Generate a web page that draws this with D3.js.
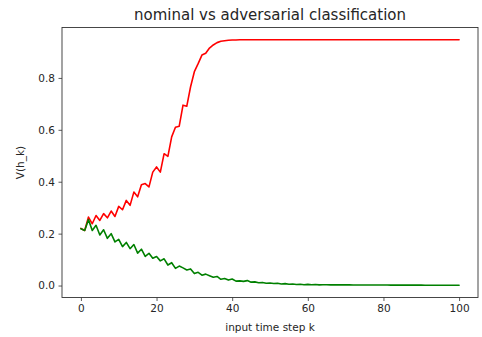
<!DOCTYPE html>
<html>
<head>
<meta charset="utf-8">
<script src="https://cdn.jsdelivr.net/npm/d3@7"></script>
<style>
  html, body { margin: 0; padding: 0; background: #fff; }
  svg { display: block; font-family: "DejaVu Sans", sans-serif; }
</style>
</head>
<body>
<svg id="chart" width="482" height="337"></svg>
<script>
// time steps k = 0..100
const steps = d3.range(0, 101);

// V(h_k) for the adversarial input (rises to saturation)
const adversarial = [
  0.220, 0.212, 0.264, 0.238, 0.270, 0.251, 0.277, 0.261, 0.287, 0.266,
  0.305, 0.292, 0.328, 0.309, 0.360, 0.342, 0.388, 0.393, 0.380, 0.437,
  0.457, 0.437, 0.508, 0.498, 0.573, 0.610, 0.614, 0.695, 0.691, 0.766,
  0.824, 0.855, 0.888, 0.895, 0.915, 0.927, 0.936, 0.941, 0.943, 0.945,
  0.946, 0.946, 0.947, 0.947, 0.947, 0.947, 0.947, 0.947, 0.947, 0.947,
  0.947, 0.947, 0.947, 0.947, 0.947, 0.947, 0.947, 0.947, 0.947, 0.947,
  0.947, 0.947, 0.947, 0.947, 0.947, 0.947, 0.947, 0.947, 0.947, 0.947,
  0.947, 0.947, 0.947, 0.947, 0.947, 0.947, 0.947, 0.947, 0.947, 0.947,
  0.947, 0.947, 0.947, 0.947, 0.947, 0.947, 0.947, 0.947, 0.947, 0.947,
  0.947, 0.947, 0.947, 0.947, 0.947, 0.947, 0.947, 0.947, 0.947, 0.947,
  0.947
];

// V(h_k) for the nominal input (decays towards zero)
const nominal = [
  0.219, 0.212, 0.254, 0.212, 0.232, 0.195, 0.215, 0.182, 0.200, 0.168,
  0.178, 0.150, 0.166, 0.142, 0.158, 0.125, 0.140, 0.112, 0.124, 0.105,
  0.112, 0.095, 0.103, 0.079, 0.088, 0.066, 0.075, 0.068, 0.060, 0.064,
  0.046, 0.051, 0.040, 0.044, 0.038, 0.032, 0.035, 0.024, 0.027, 0.021,
  0.025, 0.017, 0.018, 0.016, 0.019, 0.013, 0.014, 0.011, 0.012, 0.009,
  0.010, 0.008, 0.009, 0.006, 0.0075, 0.005, 0.006, 0.004, 0.005, 0.003,
  0.0045, 0.003, 0.0038, 0.0025, 0.003, 0.0028, 0.0027, 0.0026, 0.0026, 0.0025,
  0.0024, 0.0024, 0.0023, 0.0023, 0.0022, 0.0022, 0.0021, 0.0021, 0.0020, 0.0020,
  0.0018, 0.0018, 0.0017, 0.0017, 0.0016, 0.0016, 0.0016, 0.0015, 0.0015, 0.0015,
  0.0015, 0.0014, 0.0014, 0.0014, 0.0013, 0.0013, 0.0013, 0.0013, 0.0012, 0.0012,
  0.0012
];

const xTicks = [0, 20, 40, 60, 80, 100];
const yTicks = [0.0, 0.2, 0.4, 0.6, 0.8];

const titleText = "nominal vs adversarial classification";
const xLabel = "input time step k";
const yLabel = "V(h_k)";

const svg = d3.select("#chart");
const margin = { left: 62, right: 4, top: 27.5, bottom: 39.5 };
const W = 482, H = 337;
const textColor = "#262626";

// data limits padded by 5% on each side
const xMin = d3.min(steps), xMax = d3.max(steps);
const xPad = (xMax - xMin) * 0.05;
const allV = adversarial.concat(nominal);
const vMin = d3.min(allV), vMax = d3.max(allV);
const vPad = (vMax - vMin) * 0.05;

const x = d3.scaleLinear()
  .domain([xMin - xPad, xMax + xPad])
  .range([margin.left, W - margin.right]);
const y = d3.scaleLinear()
  .domain([vMin - vPad, vMax + vPad])
  .range([H - margin.bottom, margin.top]);

// clip the plotting area
svg.append("defs").append("clipPath").attr("id", "plotclip")
  .append("rect")
  .attr("x", margin.left).attr("y", margin.top)
  .attr("width", W - margin.left - margin.right)
  .attr("height", H - margin.top - margin.bottom);

const line = (vals) => d3.line()
  .x((d, i) => x(steps[i]))
  .y(d => y(d))(vals);

const plot = svg.append("g").attr("clip-path", "url(#plotclip)");
plot.append("path")
  .attr("d", line(adversarial))
  .attr("fill", "none").attr("stroke", "#ff0000").attr("stroke-width", 1.6)
  .attr("stroke-linejoin", "round").attr("stroke-linecap", "round");
plot.append("path")
  .attr("d", line(nominal))
  .attr("fill", "none").attr("stroke", "#008000").attr("stroke-width", 1.6)
  .attr("stroke-linejoin", "round").attr("stroke-linecap", "round");

// axes
const xAxis = svg.append("g")
  .attr("transform", `translate(0,${H - margin.bottom})`)
  .call(d3.axisBottom(x).tickValues(xTicks).tickFormat(d3.format("d"))
    .tickSize(3.5).tickPadding(3.5));
const yAxis = svg.append("g")
  .attr("transform", `translate(${margin.left},0)`)
  .call(d3.axisLeft(y).tickValues(yTicks).tickFormat(d3.format(".1f"))
    .tickSize(3.5).tickPadding(3.5));

[xAxis, yAxis].forEach(g => {
  g.select(".domain").remove();
  g.selectAll(".tick line").attr("stroke", "#333").attr("stroke-width", 0.8);
  g.selectAll(".tick text")
    .attr("fill", textColor)
    .style("font-family", "'DejaVu Sans', sans-serif")
    .style("font-size", "10.5px");
});

// frame
svg.append("rect")
  .attr("x", margin.left).attr("y", margin.top)
  .attr("width", W - margin.left - margin.right)
  .attr("height", H - margin.top - margin.bottom)
  .attr("fill", "none").attr("stroke", "#333").attr("stroke-width", 0.9);

// title and axis labels
svg.append("text")
  .attr("x", (margin.left + W - margin.right) / 2).attr("y", 19.5)
  .attr("text-anchor", "middle")
  .style("font-size", "15px").attr("fill", textColor)
  .text(titleText);

svg.append("text")
  .attr("x", (margin.left + W - margin.right) / 2).attr("y", 331)
  .attr("text-anchor", "middle")
  .style("font-size", "10.5px").attr("fill", textColor)
  .text(xLabel);

svg.append("text")
  .attr("transform", `translate(24,${(margin.top + H - margin.bottom) / 2}) rotate(-90)`)
  .attr("text-anchor", "middle")
  .style("font-size", "10.5px").attr("fill", textColor)
  .text(yLabel);
</script>
</body>
</html>
